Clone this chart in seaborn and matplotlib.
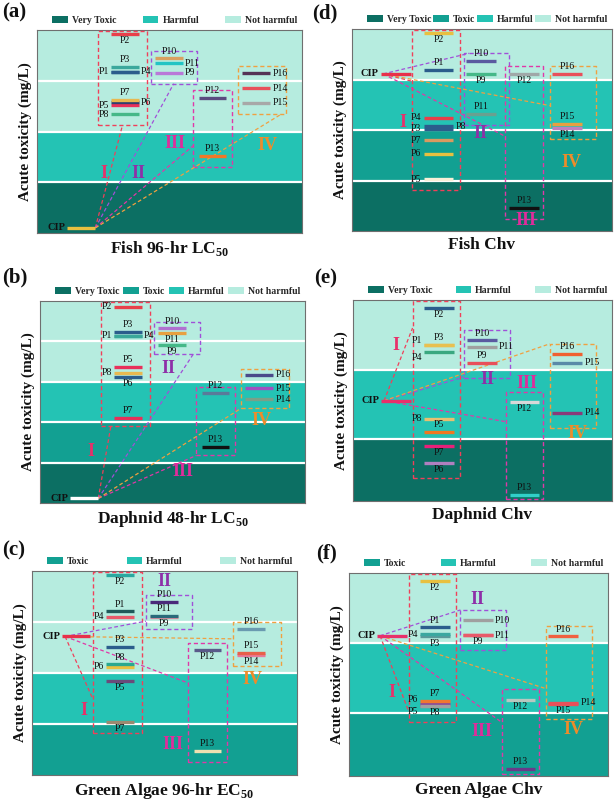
import numpy as np
import pandas as pd
import matplotlib
matplotlib.use("Agg")
import matplotlib.pyplot as plt
import seaborn as sns
from matplotlib.patches import Patch
from matplotlib.ticker import NullLocator

sns.set_theme(style="white")
plt.rcParams["font.family"] = ["Liberation Serif", "DejaVu Serif"]
plt.rcParams["mathtext.fontset"] = "custom"
plt.rcParams["mathtext.rm"] = "Liberation Serif"
plt.rcParams["mathtext.bf"] = "Liberation Serif:bold"

# ---------------- data ----------------
labels = ["P1", "P2", "P3", "P4", "P5", "P6", "P7", "P8", "P9", "P10",
          "P11", "P12", "P13", "P14", "P15", "P16", "CIP"]
groups = ["I"] * 8 + ["II"] * 3 + ["III"] * 2 + ["IV"] * 3 + ["CIP"]

# acute toxicity values (mg/L), order P1..P16, CIP
fish_lc50 = [150, 850, 190, 150, 33, 38, 42, 22, 145, 275, 220, 46, 3.3, 71, 37, 140, 0.126]
daphnid_lc50 = [138, 720, 174, 138, 23, 13.5, 1.3, 16.6, 81, 209, 162, 5.4, 0.25, 3.7, 6.9, 14.8, 0.013]
algae_ec50 = [162, 850, 32, 126, 6.9, 13.2, 1.1, 14.8, 123, 245, 132, 28, 0.30, 23, 25, 72, 52]
fish_chv = [155, 830, 10.7, 17.4, 1.07, 3.4, 6.2, 12, 129, 234, 21, 129, 0.29, 11, 13.2, 129, 129]
daphnid_chv = [224, 760, 224, 178, 12.6, 4.5, 8.0, 19.5, 126, 263, 214, 34, 1.55, 24, 126, 166, 35.5]
algae_chv = [166, 760, 123, 132, 12.3, 13.2, 14.8, 12.3, 129, 209, 129, 15.2, 1.55, 13.8, 13.2, 123, 126]

titles = ["Fish 96-hr LC$_{\\mathbf{50}}$", "Daphnid 48-hr LC$_{\\mathbf{50}}$",
          "Green Algae 96-hr EC$_{\\mathbf{50}}$", "Fish Chv", "Daphnid Chv", "Green Algae Chv"]
tags = ["(a)", "(b)", "(c)", "(d)", "(e)", "(f)"]

# ---------------- styles ----------------
cols_a = ["#2b5d8c", "#e8404a", "#3ba89c", "#2b5d8c", "#e8305a", "#2f3f6f", "#e8b850", "#45b888",
          "#b978d8", "#d9a060", "#22c4c4", "#5a4a80", "#f07828", "#e8505a", "#a8a8a8", "#553355", "#e8c040"]
cols_b = ["#3aa89a", "#e8404a", "#2b5d8c", "#3aa89a", "#e8305a", "#2b5d8c", "#e8305a", "#e8b850",
          "#45b888", "#b070d0", "#e8a040", "#5a7a9a", "#111111", "#7aa088", "#a050c0", "#4a4a8a", "#ffffff"]
cols_c = ["#1f5a5a", "#2aa8a0", "#2b5d8c", "#e85a6a", "#6a4a7a", "#e8c040", "#9a8a70", "#2aa890",
          "#e890a0", "#4a2a7a", "#2a6a7a", "#5a5a8a", "#f0e0b0", "#e87a9a", "#e8604a", "#6a9ab0", "#e8304a"]
cols_d = ["#2b5d8c", "#e8c040", "#2b5d8c", "#e8404a", "#f8f0d8", "#e8c040", "#d99a60", "#2b5d8c",
          "#45b888", "#5a5aa0", "#6aa090", "#a0a8a8", "#111111", "#c080c0", "#e8a040", "#e8505a", "#e8304a"]
cols_e = ["#e8c050", "#2b5d8c", "#e8c050", "#3aa880", "#f07820", "#b080c0", "#e8207a", "#e8c070",
          "#e8505a", "#5a5aa0", "#a0a0a0", "#d8d8d8", "#30d0c8", "#8a3a7a", "#5a8aa8", "#f06030", "#e8306a"]
cols_f = ["#2b5d8c", "#e8c040", "#5a9a9a", "#3aa8a0", "#8a8a9a", "#8a4a9a", "#f07830", "#a0a0a0",
          "#e85a6a", "#a0a0a0", "#e85a6a", "#b8c8c0", "#6a3a8a", "#e8505a", "#e8505a", "#f06040", "#e8306a"]

lab_a = ["l", "b", "a", "r", "l", "r", "a", "l", "r", "a", "r", "a", "a", "r", "r", "r", "l"]
lab_b = ["l", "l", "a", "r", "a", "b", "a", "l", "b", "a", "b", "a", "a", "r", "r", "r", "l"]
lab_c = ["a", "b", "a", "l", "b", "l", "b", "a", "b", "a", "a", "b", "a", "b", "a", "a", "l"]
lab_d = ["a", "b", "l", "l", "l", "l", "l", "r", "b", "a", "a", "b", "a", "b", "a", "a", "l"]
lab_e = ["la", "b", "a", "lb", "a", "b", "b", "l", "a", "a", "r", "b", "a", "r", "r", "a", "l"]
lab_f = ["a", "b", "b", "l", "lb", "la", "a", "b", "b", "r", "r", "b", "a", "r", "b", "a", "l"]

BAND_COL = {"VT": "#0c6f63", "T": "#12a092", "H": "#24c3b4", "NH": "#b6ecdf"}
BAND_NAME = {"VT": "Very Toxic", "T": "Toxic", "H": "Harmful", "NH": "Not harmful"}
GCOL = {"I": "#f0405a", "II": "#a050d8", "III": "#e038a8", "IV": "#f0a040"}
GTXT = {"I": "#e8306a", "II": "#8e2fa8", "III": "#e02c9c", "IV": "#ee8c2a"}
XCOL = {"CIP": 16.75, "I": 33.25, "II": 49.75, "III": 66.25, "IV": 82.75}
XBOX = {"I": (23, 41.5), "II": (43, 60.5), "III": (59, 73.5), "IV": (76, 94)}

W, H = 615, 802
panels = [
    dict(vals=fish_lc50, cols=cols_a, lab=lab_a, rect=(37, 30, 302, 233), ylim=(-1, 3),
         bands=["NH", "NH", "H", "VT"], leg=["VT", "H", "NH"], sw=10.5, cip="right", tag=(2, 2),
         glab={"I": (25.2, 0.18), "II": (38.1, 0.18), "III": (52.2, 0.76), "IV": (86.8, 0.72)},
         anch={"I": (0.5, 0), "II": (0.49, 0), "III": (0, 0.28), "IV": (0.91, 0)}),
    dict(vals=daphnid_lc50, cols=cols_b, lab=lab_b, rect=(40, 301, 305, 503), ylim=(-2, 3),
         bands=["NH", "NH", "H", "T", "VT"], leg=["VT", "T", "H", "NH"], sw=10.5, cip="right", tag=(2, 267),
         glab={"I": (19.1, -0.72), "II": (48.4, 1.32), "III": (54.1, -1.23), "IV": (83.6, 0.03)},
         anch={"I": (0.2, 0), "II": (0.85, 0), "III": (0, 0), "IV": (0, 0)}),
    dict(vals=algae_ec50, cols=cols_c, lab=lab_c, rect=(32, 571, 297, 775), ylim=(-1, 3),
         bands=["NH", "NH", "H", "T"], leg=["T", "H", "NH"], sw=10.5, cip="left", tag=(2, 540),
         glab={"I": (19.7, 0.27), "II": (49.9, 2.80), "III": (53.3, -0.40), "IV": (83.2, 0.87)},
         anch={"I": (0, 0.21), "II": (0, 0.22), "III": (0, 0.66), "IV": (0, 0.61)}),
    dict(vals=fish_chv, cols=cols_d, lab=lab_d, rect=(352, 29, 612, 231), ylim=(-1, 3),
         bands=["NH", "H", "T", "VT"], leg=["VT", "T", "H", "NH"], sw=11.5, cip="left", tag=(312, 3),
         glab={"I": (19.4, 1.15), "II": (49.5, 0.94), "III": (66.8, -0.80), "IV": (84.2, 0.36)},
         anch={"I": (0, 0.68), "II": (0.12, 1), "III": (0, 0.54), "IV": (0, 0.46)}),
    dict(vals=daphnid_chv, cols=cols_e, lab=lab_e, rect=(353, 300, 612, 501), ylim=(0.108, 3),
         bands=["NH", "H", "VT"], leg=["VT", "H", "NH"], sw=11.5, cip="left", tag=(314, 268),
         glab={"I": (16.5, 2.35), "II": (51.9, 1.86), "III": (67.1, 1.80), "IV": (86.5, 1.08)},
         anch={"I": (0, 0.85), "II": (0, 0.02), "III": (0, 0.72), "IV": (0, 1)}),
    dict(vals=algae_chv, cols=cols_f, lab=lab_f, rect=(349, 573, 608, 776), ylim=(0.09, 3),
         bands=["NH", "H", "T"], leg=["T", "H", "NH"], sw=11.5, cip="left", tag=(316, 543),
         glab={"I": (16.5, 1.28), "II": (49.5, 2.62), "III": (51.2, 0.73), "IV": (86.5, 0.76)},
         anch={"I": (0, 0.07), "II": (0, 1), "III": (0, 0.61), "IV": (0, 0.33)}),
]

fig = plt.figure(figsize=(W / 100, H / 100), dpi=100)
fig.patch.set_facecolor("white")

OFF = {"a": (0, 2, "center", "bottom"), "b": (0, -1.5, "center", "top"),
       "l": (-1.5, 0, "right", "center"), "r": (1.5, 0, "left", "center"),
       "lb": (-1.5, -4, "right", "center"), "la": (-1.5, 3, "right", "center")}

for i, p in enumerate(panels):
    x0, y0, x1, y1 = p["rect"]
    ax = fig.add_axes([x0 / W, 1 - y1 / H, (x1 - x0) / W, (y1 - y0) / H])
    lo, hi = p["ylim"]
    ax.set_yscale("log")
    # toxicity bands
    for k, b in enumerate(p["bands"]):
        top = 10 ** (3 - k)
        bot = max(10 ** (2 - k), 10 ** lo)
        ax.axhspan(bot, top, color=BAND_COL[b], zorder=0, lw=0)
        if k > 0:
            ax.axhline(top, color="white", lw=1.6, zorder=1)
    sw = p["sw"]
    rows = []
    for lab, v, g in zip(labels, p["vals"], groups):
        xc = XCOL[g]
        rows.append((lab, xc - sw / 2, v))
        rows.append((lab, xc + sw / 2, v))
    df = pd.DataFrame(rows, columns=["label", "x", "conc"])
    sns.lineplot(data=df, x="x", y="conc", hue="label", units="label", estimator=None,
                 palette=dict(zip(labels, p["cols"])), lw=2.4, legend=False, ax=ax,
                 sort=False, zorder=5, solid_capstyle="butt")
    # point labels
    for lab, v, g, pos in zip(labels, p["vals"], groups, p["lab"]):
        xc = XCOL[g]
        dx, dy, ha, va = OFF[pos]
        xx = xc - sw / 2 if pos.startswith("l") else (xc + sw / 2 if pos == "r" else xc)
        bold = lab == "CIP"
        ax.annotate(lab, (xx, v), xytext=(dx, dy), textcoords="offset points",
                    ha=ha, va=va, fontsize=7.5 if bold else 7,
                    fontweight="bold" if bold else "normal", color="#111111", zorder=6)
    # group boxes, labels, connectors
    lv = np.log10(np.array(p["vals"], dtype=float))
    gar = np.array(groups)
    cip_v = p["vals"][-1]
    cip_x = XCOL["CIP"] + sw / 2 if p["cip"] == "right" else XCOL["CIP"] - sw / 2 + 1
    for g in ["I", "II", "III", "IV"]:
        sel = lv[gar == g]
        btop = min(sel.max() + 0.15, hi - 0.02)
        bbot = max(sel.min() - 0.22, lo + 0.03)
        bx0, bx1 = XBOX[g]
        ax.plot([bx0, bx1, bx1, bx0, bx0],
                [10 ** bbot, 10 ** bbot, 10 ** btop, 10 ** btop, 10 ** bbot],
                ls=(0, (3, 2)), lw=1.0, color=GCOL[g], zorder=3)
        fx, fy = p["anch"][g]
        ex = bx0 + fx * (bx1 - bx0)
        ey = 10 ** (bbot + fy * (btop - bbot))
        ax.plot([cip_x, ex], [cip_v, ey], ls=(0, (3, 2)), lw=0.9, color=GCOL[g], zorder=3)
        gx, gy = p["glab"][g]
        ax.text(gx, 10 ** gy, g, ha="center", va="center", fontsize=13, fontweight="bold",
                color=GTXT[g], zorder=6)
    ax.set_xlim(0, 100)
    ax.set_ylim(10 ** lo, 10 ** hi)
    ax.set_xticks([])
    ax.set_yticks([])
    ax.yaxis.set_minor_locator(NullLocator())
    for s in ax.spines.values():
        s.set_color("#6f6f6f")
        s.set_linewidth(0.8)
    ax.set_xlabel(titles[i], fontsize=12.5, fontweight="bold", labelpad=4, color="#111111")
    ax.set_ylabel("Acute toxicity (mg/L)", fontsize=11, fontweight="bold", color="#111111")
    ax.yaxis.set_label_coords(-0.02, 0.5)
    handles = [Patch(facecolor=BAND_COL[c], edgecolor="none", label=BAND_NAME[c]) for c in p["leg"]]
    ax.legend(handles=handles, loc="lower left", bbox_to_anchor=(0.04, 1.0, 0.96, 0.07),
              mode="expand", ncol=len(handles), frameon=False, handlelength=1.6,
              handleheight=0.8, handletextpad=0.4, borderaxespad=0.1,
              prop={"family": "Liberation Serif", "weight": "bold", "size": 7})
    tx, ty = p["tag"]
    fig.text(tx / W, 1 - ty / H, tags[i], ha="left", va="top", fontsize=15,
             fontweight="bold", color="#111111")

fig.savefig("out.png", dpi=100, facecolor="white")
